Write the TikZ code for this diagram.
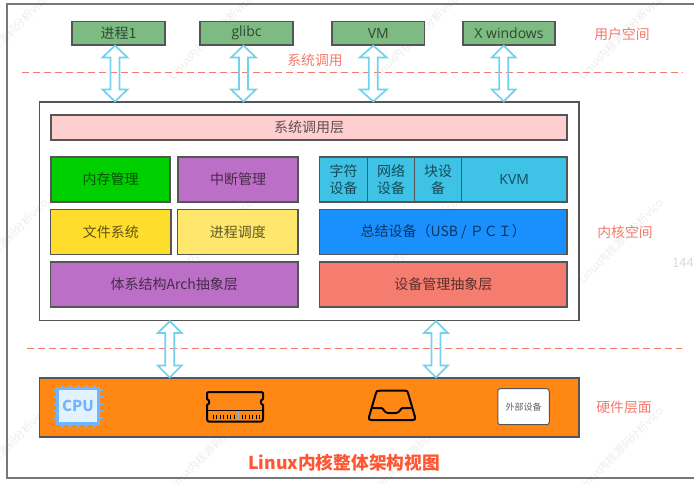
\documentclass[tikz,border=0pt]{standalone}
\usepackage{fontspec}
\setmainfont{Noto Sans CJK SC}
\newfontfamily\latinface{Open Sans}
\usetikzlibrary{calc}
\definecolor{framegray}{HTML}{777777}
\definecolor{edgegray}{HTML}{555555}
\definecolor{procgreen}{HTML}{7DBB82}
\definecolor{layerpink}{HTML}{FFCFCF}
\definecolor{memgreen}{HTML}{00D000}
\definecolor{violet1}{HTML}{BC6FC6}
\definecolor{yellow1}{HTML}{FFDD2D}
\definecolor{yellow2}{HTML}{FFE76D}
\definecolor{cyan1}{HTML}{3EC3E6}
\definecolor{blue1}{HTML}{1A90FF}
\definecolor{salmon1}{HTML}{F47D70}
\definecolor{orange1}{HTML}{FF8814}
\definecolor{arrowcyan}{HTML}{70D2EF}
\definecolor{notered}{HTML}{F47A6B}
\definecolor{titlered}{HTML}{FF5533}
\definecolor{cpublue}{HTML}{6FB5FF}
\definecolor{cpufill}{HTML}{E3F2FF}
\tikzset{
  boxed/.style={draw=edgegray,line width=1.1pt,inner sep=0pt,font=\fontsize{14}{17}\selectfont,text=black,text opacity=.62,align=center},
  note/.style={text=notered,font=\fontsize{13.8}{16}\selectfont,inner sep=0pt},
  bidir/.style={draw=arrowcyan,line width=1.7pt,line join=miter},
  divider/.style={draw=notered,line width=1pt,dash pattern=on 7pt off 4pt},
  wmark/.style={rotate=45,anchor=west,text=black!7,font=\fontsize{11}{13}\selectfont,inner sep=0pt},
  icon/.style={line width=2pt,line join=round,line cap=round,draw=black}
}
% box from its two opposite corners: name, x1, y1, x2, y2, options, text
\newcommand{\cornerbox}[7]{%
  \pgfmathsetmacro\boxw{#4-#2}\pgfmathsetmacro\boxh{#5-#3}%
  \node[boxed,#6,minimum width=\boxw pt,minimum height=\boxh pt] (#1) at ({(#2+#4)/2},{(#3+#5)/2}) {#7};}
% open two-headed block arrow between two named points, head half-width as third argument
\newcommand{\blockarrow}[3]{%
  \draw[bidir] (#1) -- ($(#1)+(#3,12)$) -- ($(#1)+(4.5,12)$) -- ($(#2)+(4.5,-12)$) -- ($(#2)+(#3,-12)$)
    -- (#2) -- ($(#2)+(-#3,-12)$) -- ($(#2)+(-4.5,-12)$) -- ($(#1)+(-4.5,12)$) -- ($(#1)+(-#3,12)$) -- cycle;}
\begin{document}
\begin{tikzpicture}[x=1pt,y=-1pt]
\useasboundingbox (0,0) rectangle (694,483);
\clip (0,0) rectangle (694,483);
\fill[white] (0,0) rectangle (694,483);

% repeated diagonal watermark
\foreach \wx in {-35,170,375,580}
  \foreach \wy in {78,282,490}
    \node[wmark] at (\wx,\wy) {Linux内核源码分析vico};
\node[anchor=west,inner sep=0pt,text=black!14,font=\fontsize{13}{15}\selectfont] (cutnum) at (672,263) {144};

% page frame, open on the right
\draw[framegray,line width=1.3pt] (694,4) -- (7,4) -- (7,478) -- (694,478);

% user space
\cornerbox{p1}{72}{21.5}{165}{45}{fill=procgreen}{\raisebox{-1pt}{进程1}}
\cornerbox{p2}{200}{21.5}{293}{45}{fill=procgreen}{\raisebox{-.5pt}{\latinface glibc}}
\cornerbox{p3}{332}{21.5}{424.5}{45}{fill=procgreen}{\raisebox{-.5pt}{\latinface VM}}
\cornerbox{p4}{463}{21.5}{555}{45}{fill=procgreen}{\raisebox{-.5pt}{\latinface X windows}}
\node[note] (lsys) at (315,60) {系统调用};
\node[note] (luser) at (622,34) {用户空间};
\draw[divider] (22,72.5) -- (683,72.5);

% kernel space
\cornerbox{kern}{39.5}{102}{579}{320.5}{}{}
\cornerbox{sysl}{51}{115}{567}{140}{fill=layerpink}{\raisebox{-.7pt}{系统调用层}}
\cornerbox{mem}{51}{157}{170}{202}{fill=memgreen}{内存管理}
\cornerbox{irq}{178}{157}{298}{202}{fill=violet1}{中断管理}
\cornerbox{fs}{50.5}{209.5}{171}{254.5}{fill=yellow1}{文件系统}
\cornerbox{sched}{177.5}{209.5}{298}{254.5}{fill=yellow2}{进程调度}
\cornerbox{arch}{50.5}{262}{298}{307}{fill=violet1}{体系结构Arch抽象层}
\cornerbox{chr}{319.5}{157}{367.5}{202}{fill=cyan1}{字符\\设备}
\cornerbox{net}{367.5}{157}{414.5}{202}{fill=cyan1}{网络\\设备}
\cornerbox{blk}{414.5}{157}{461.5}{202}{fill=cyan1}{块设\\备}
\cornerbox{kvm}{461.5}{157}{567}{202}{fill=cyan1}{\latinface KVM}
\cornerbox{bus}{319.5}{209.5}{567}{254.5}{fill=blue1}{总结设备（USB / ＰＣＩ）}
\cornerbox{devm}{319.5}{262}{567}{307}{fill=salmon1}{设备管理抽象层}
\node[note] (lkern) at (625,232) {内核空间};
\draw[divider] (27,348) -- (682,348);

% hardware layer
\cornerbox{hw}{39.5}{378}{579}{437}{fill=orange1}{}
\node[note] (lhw) at (624,407) {硬件层面};

% CPU icon
\foreach \pp in {0,1,2,3,4} {
  \draw[cpublue,line width=1.3pt] ({62+\pp*8},384.5) -- ({62+\pp*8},428);
  \draw[cpublue,line width=1.3pt] (53.5,{390+\pp*7}) -- (102.5,{390+\pp*7});
}
\node[draw=cpublue,line width=2.4pt,fill=cpufill,minimum width=41pt,minimum height=35pt,inner sep=0pt,text=cpublue,font=\fontsize{15}{17}\bfseries\selectfont] (cpu) at (78,406) {CPU};

% memory module icon
\draw[icon] (209,392) -- (261,392) .. controls (263,392) and (263,393) .. (263,394) -- (263,399)
  .. controls (260,400) and (260,404) .. (263,405) -- (263,419) .. controls (263,421) and (262,421.5) .. (261,421.5)
  -- (209,421.5) .. controls (208,421.5) and (207,421) .. (207,419) -- (207,405)
  .. controls (210,404) and (210,400) .. (207,399) -- (207,394) .. controls (207,393) and (207,392) .. (209,392) -- cycle;
\draw[black,line width=1.4pt] (207,410.5) -- (263,410.5);
\foreach \tx in {213,216.5,220,223.5,227,230.5,234,242,245.5,249,252.5,256,259}
  \draw[black,line width=.7pt] (\tx,414.5) -- (\tx,419);
\draw[cpublue,line width=1pt] (238.5,412) -- (238.5,419);

% disk tray icon
\draw[icon] (380,390.7) -- (405,390.7) .. controls (407,390.7) and (407.5,391) .. (408,393)
  -- (415,417) .. controls (415.5,419) and (415,420) .. (413,420) -- (371,420)
  .. controls (369,420) and (368.5,419) .. (369,417) -- (376,393) .. controls (376.5,391) and (377,390.7) .. (380,390.7) -- cycle;
\draw[icon] (373,408) -- (381,408) .. controls (384,408) and (384,413) .. (388,413) -- (396,413)
  .. controls (400,413) and (400,408) .. (403,408) -- (411,408);

% external device badge
\node[draw=edgegray,line width=1pt,rounded corners=2.5pt,fill=white,minimum width=51.5pt,minimum height=36pt,inner sep=0pt,text=black,text opacity=.62,font=\fontsize{9}{11}\selectfont] (ext) at (523.5,406.7) {外部设备};

% two-way arrows between the layers
\coordinate (a1) at ($(p1.south)+(-3.5,0)$);
\coordinate (b1) at (a1 |- kern.north);
\coordinate (a2) at ($(p2.south)+(-3,0)$);
\coordinate (b2) at (a2 |- kern.north);
\coordinate (a3) at ($(p3.south)+(-5,0)$);
\coordinate (b3) at (a3 |- kern.north);
\coordinate (a4) at ($(p4.south)+(-5.3,0)$);
\coordinate (b4) at (a4 |- kern.north);
\coordinate (a5) at ($(kern.south)+(-139.5,0)$);
\coordinate (b5) at (a5 |- hw.north);
\coordinate (a6) at ($(kern.south)+(126.7,0)$);
\coordinate (b6) at (a6 |- hw.north);
\blockarrow{a1}{b1}{12.5}
\blockarrow{a2}{b2}{12.5}
\blockarrow{a3}{b3}{13.5}
\blockarrow{a4}{b4}{12}
\blockarrow{a5}{b5}{12}
\blockarrow{a6}{b6}{12}

% caption
\node[text=titlered,font=\fontsize{17.7}{20}\bfseries\selectfont,inner sep=0pt] (title) at (344,463) {Linux内核整体架构视图};
\end{tikzpicture}
\end{document}
